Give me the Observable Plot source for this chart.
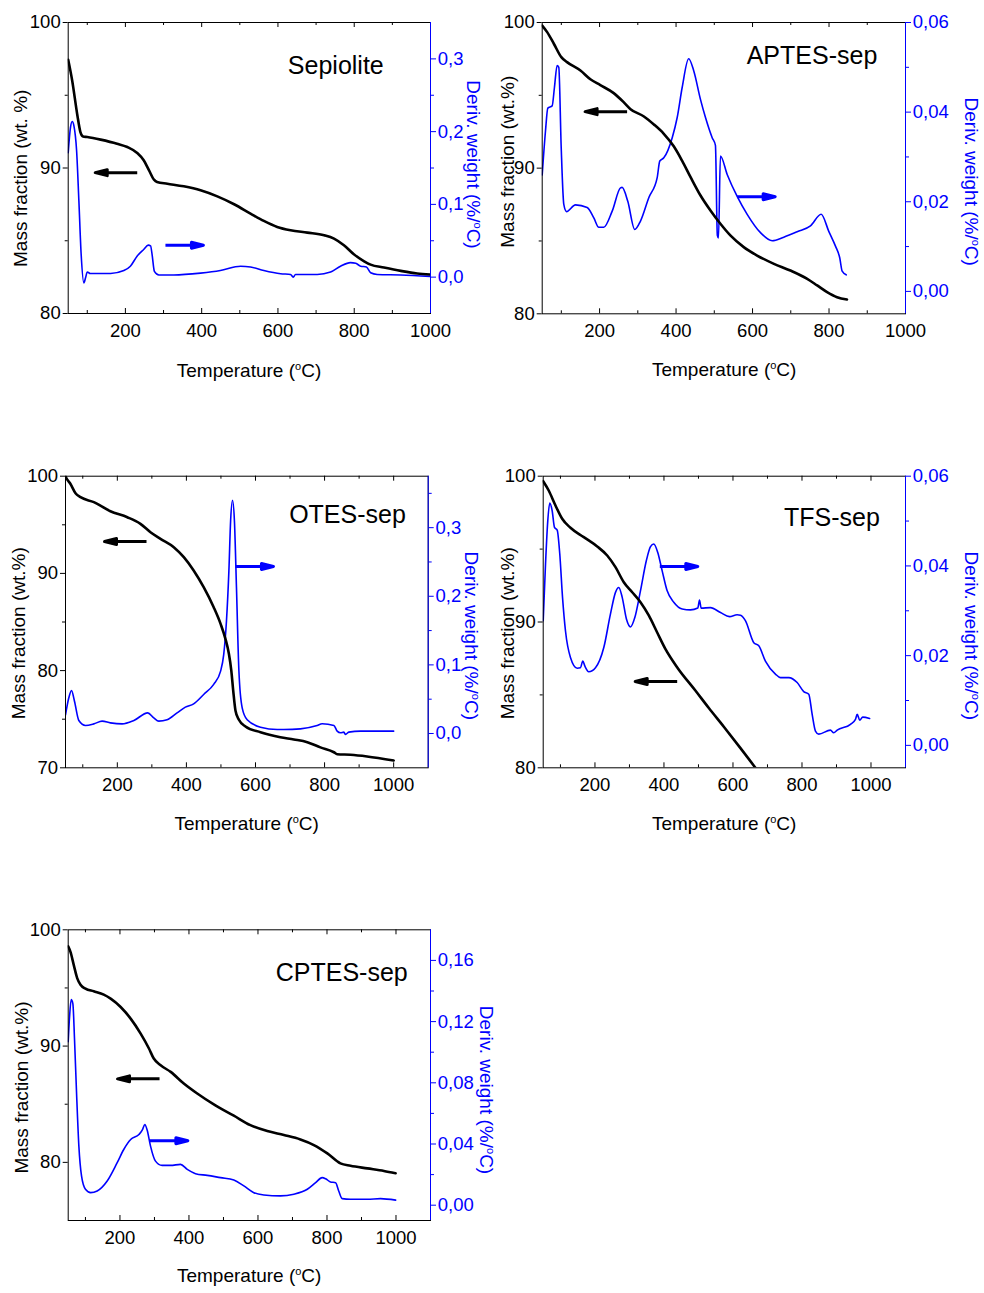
<!DOCTYPE html>
<html>
<head>
<meta charset="utf-8">
<script src="https://cdn.jsdelivr.net/npm/d3@7"></script>
<script src="https://cdn.jsdelivr.net/npm/@observablehq/plot@0.6"></script>
<style>
  body { margin: 0; background: #fff; }
  #page { position: relative; width: 984px; height: 1293px; background: #fff; }
  .panel { position: absolute; }
</style>
</head>
<body>
<div id="page"></div>
<script>
// ---- TGA data: [temperature (°C), mass fraction (wt.%)] ----
const sepioliteMass = [[50,97.44],[60.5,96.0],[73.6,93.7],[82,92.47],[89,92.17],[100,92.13],[135,91.95],[178,91.67],[205,91.44],[231,91.03],[248,90.53],[262,89.84],[275,89.2],[283,89.04],[310,88.92],[353,88.74],[397,88.47],[441,88.05],[485,87.51],[528,86.87],[563,86.36],[598,85.95],[633,85.72],[677,85.56],[721,85.38],[747,85.15],[773,84.69],[799,84.07],[826,83.59],[843,83.36],[878,83.16],[922,82.93],[965,82.75],[1000,82.68]];
const aptesMass = [[50,99.79],[63,99.34],[80.5,98.54],[100,97.62],[115,97.28],[150,96.7],[176,96.1],[202,95.7],[237,95.15],[263,94.53],[281,94.05],[316,93.55],[342,93.0],[368,92.36],[394,91.5],[416,90.5],[438,89.38],[464,88.12],[490,87.09],[516,86.18],[542,85.38],[577,84.58],[612,84.0],[656,83.43],[699,82.97],[743,82.4],[769,81.95],[795,81.49],[821,81.14],[847,80.98]];
const otesMass = [[50,100],[52,99.84],[64.5,99.2],[79,98.25],[93.4,97.84],[132,97.33],[180,96.4],[229,95.78],[267,95.1],[296,94.24],[325,93.56],[363.5,92.7],[392.5,91.67],[421,90.3],[450,88.58],[479,86.52],[499,84.81],[513,83.27],[523,81.73],[530,80.0],[535.5,77.95],[542,75.9],[552,74.94],[571,74.25],[614.5,73.66],[672,73.15],[711,72.92],[750,72.64],[788,72.1],[827,71.6],[836.5,71.4],[875,71.34],[923,71.17],[1000,70.76]];
const tfsMass = [[50,99.66],[66,99.02],[85.6,97.99],[105,97.08],[129,96.46],[167.6,95.82],[206.5,95.18],[235.5,94.56],[259.5,93.76],[283.6,92.73],[308,92.04],[332,91.36],[356,90.45],[380,89.3],[404,88.16],[438,86.9],[491,85.3],[530,84.1],[574,82.8],[620,81.4],[665,80.0],[690,79.2]];
const cptesMass = [[50,98.57],[56.8,98.08],[66.4,96.94],[76,95.85],[85.7,95.28],[100,94.94],[124,94.71],[153,94.42],[173,94.08],[202,93.36],[231,92.36],[260,91.07],[284,89.79],[298,88.93],[318,88.35],[347,87.78],[385,86.78],[424,85.92],[472,84.98],[530,84.01],[578,83.2],[627,82.69],[675,82.35],[723,81.97],[762,81.49],[801,80.77],[839,79.91],[868,79.71],[917,79.48],[965,79.26],[999,79.06]];

// ---- DTG data: [temperature (°C), derivative weight (%/°C)] ----
const sepioliteDtg = [[50,0.171],[56,0.206],[60.5,0.214],[65,0.208],[72,0.174],[78,0.105],[84,0.031],[91,-0.008],[95.5,-0.001],[100,0.007],[108,0.005],[161,0.005],[196,0.009],[213,0.015],[231,0.029],[248,0.038],[260,0.044],[266,0.043],[270,0.031],[276,0.008],[288,0.003],[327,0.003],[397,0.0055],[449,0.009],[502,0.015],[528,0.014],[563,0.009],[607,0.0046],[633,0.0037],[640,0.0],[646,0.0037],[703,0.0037],[738,0.007],[764,0.015],[790,0.02],[804,0.019],[817,0.015],[832,0.014],[843,0.006],[860,0.0037],[922,0.003],[1000,0.001]];
const aptesDtg = [[50,0.026],[58.6,0.0358],[64.7,0.0409],[76,0.0414],[82,0.0455],[89,0.0504],[93.4,0.05],[99.7,0.0321],[106.5,0.0194],[113.5,0.0178],[137,0.0193],[167.6,0.0187],[185,0.0164],[198,0.0143],[211,0.0143],[233,0.0179],[254.7,0.0231],[259,0.0232],[273.8,0.0201],[292,0.0138],[307,0.0157],[328.7,0.0209],[350.7,0.0254],[357.5,0.0291],[368,0.0298],[390,0.0343],[403,0.0388],[416,0.0455],[433,0.0519],[446,0.0493],[464,0.0428],[477,0.0388],[494.5,0.0343],[503,0.0326],[508,0.0125],[511,0.0119],[516,0.0302],[533.7,0.0261],[559.8,0.0212],[586,0.0172],[620.8,0.0131],[651.4,0.0113],[681.7,0.0121],[716.7,0.0133],[751.5,0.0146],[779.5,0.0172],[799.4,0.0134],[816.9,0.0101],[828,0.0075],[834.4,0.0045],[844.8,0.0037]];
const otesDtg = [[50,0.027],[59.6,0.052],[67.4,0.0627],[76,0.047],[88.6,0.019],[108,0.0117],[132,0.014],[156,0.018],[180,0.0155],[214,0.014],[248,0.019],[288,0.030],[305.6,0.0228],[320,0.018],[344,0.020],[373,0.030],[397,0.0384],[421,0.0432],[450,0.0569],[479,0.0715],[499,0.0909],[508,0.115],[516,0.164],[523,0.237],[528,0.31],[533.5,0.340],[539,0.31],[545,0.212],[552,0.091],[561.5,0.0374],[576,0.020],[614.5,0.0092],[663,0.0058],[682,0.0058],[730,0.0068],[778.6,0.0117],[793,0.0141],[827,0.0117],[836.5,0.0034],[846,0.001],[856,0.002],[860.6,-0.0015],[870,0.002],[904,0.0034],[1000,0.0034]];
const tfsDtg = [[50,0.0278],[56.7,0.0404],[63.3,0.0501],[69,0.054],[76,0.0523],[82.7,0.0486],[90.6,0.048],[98,0.0427],[106,0.033],[114.6,0.0255],[129,0.0196],[148.5,0.0172],[158,0.0173],[164.8,0.0188],[170.6,0.0177],[182,0.0164],[201.5,0.0173],[225.6,0.0218],[245,0.0293],[259.5,0.0341],[269,0.0352],[279,0.033],[291.4,0.0281],[303,0.0264],[315.5,0.0285],[332,0.0345],[349,0.0412],[361,0.0443],[370.5,0.0449],[382,0.043],[394.8,0.0389],[409,0.0345],[428.4,0.0319],[452.8,0.0304],[476.8,0.0302],[498,0.0306],[503,0.0324],[507.8,0.0306],[534.8,0.0307],[563.8,0.0296],[590,0.0287],[612,0.0291],[621.7,0.029],[636,0.0278],[660.3,0.0229],[674.8,0.0222],[694,0.0188],[723,0.0159],[737.6,0.0151],[761.7,0.0151],[786,0.014],[805,0.012],[819.6,0.0114],[829.5,0.0069],[839,0.0032],[848.6,0.0025],[882.5,0.0034],[892,0.0028],[902,0.0034],[940.5,0.0047],[955,0.0058],[960,0.0069],[967.4,0.0056],[976,0.0063],[996,0.006]];
const cptesDtg = [[50,0.1069],[53.9,0.123],[58.7,0.1344],[63.5,0.1318],[68.4,0.108],[74.2,0.0733],[80.9,0.0386],[88.6,0.0191],[100,0.0104],[115,0.0082],[134,0.0093],[163,0.0158],[192,0.0278],[211,0.0364],[231,0.0429],[255,0.0462],[264.5,0.049],[272,0.0527],[279,0.049],[288.6,0.0386],[303,0.0288],[322,0.026],[347,0.026],[375.5,0.0267],[395,0.0234],[419,0.0206],[453,0.0195],[491.5,0.018],[530,0.0165],[559,0.0126],[588,0.0082],[617,0.0067],[665,0.0061],[704,0.0072],[743,0.0104],[767,0.0147],[786,0.018],[796,0.0173],[810,0.0152],[825,0.0147],[834,0.0093],[844,0.0043],[868,0.0039],[917,0.0039],[955,0.0043],[999,0.0033]];

// ---- Arrow tails [temperature, wt.%]: black points to the left axis, blue to the right ----
const massArrows = { sepiolite: [231, 89.68], aptes: [272, 93.88], otes: [284.5, 93.28], tfs: [438.3, 85.92], cptes: [314.7, 87.18] };
const dtgArrows  = { sepiolite: [305, 84.69], aptes: [559.8, 88.04], otes: [542, 90.71], tfs: [387.9, 93.81], cptes: [286.7, 81.86] };

// ---- Tick values and labels ----
const sampleNames = ["Sepiolite", "APTES-sep", "OTES-sep", "TFS-sep", "CPTES-sep"];
const tempTicks = [200, 400, 600, 800, 1000];
const tempMinorTicks = [100, 300, 500, 700, 900];
const massTicks80 = [80, 90, 100];
const massMinor80 = [85, 95];
const massTicks70 = [70, 80, 90, 100];
const massMinor70 = [75, 85, 95];
const dtgTicksWide = [0, 0.1, 0.2, 0.3];
const dtgMinorWide = [0.05, 0.15, 0.25];
const dtgMinorWideOtes = [0.05, 0.15, 0.25, 0.35];
const dtgTicksNarrow = [0, 0.02, 0.04, 0.06];
const dtgMinorNarrow = [0.01, 0.03, 0.05];
const dtgTicksCptes = [0, 0.04, 0.08, 0.12, 0.16];
const dtgMinorCptes = [0.02, 0.06, 0.10, 0.14];
const massTitle = "Mass fraction (wt.%)";
const massTitleSep = "Mass fraction (wt. %)";

const BLUE = "#0000ff";
const FONT = "'Liberation Sans', Arial, Helvetica, sans-serif";
const TICK_FONT = 18.5;

// Layout of each panel: box on the page, margins, scale domains, text anchors (page coordinates)
const panels = [
  { name: sampleNames[0], mass: sepioliteMass, dtg: sepioliteDtg, mArrow: massArrows.sepiolite, dArrow: dtgArrows.sepiolite, massLabel: massTitleSep,
    left: 0, top: 0, width: 492, height: 400, margin: {left: 67.7, top: 22, right: 62, bottom: 87},
    xMax: 1000, yDomain: [80, 100], yTicks: massTicks80, yMinor: massMinor80,
    rDomain: [-0.05, 0.35], rTicks: dtgTicksWide, rMinor: dtgMinorWide, rDigits: 1,
    titlePos: [335.8, 74], leftPos: [27.3, 178.3], rightPos: [466.5, 164.5], bottomPos: [249, 376.5] },
  { name: sampleNames[1], mass: aptesMass, dtg: aptesDtg, mArrow: massArrows.aptes, dArrow: dtgArrows.aptes, massLabel: massTitle,
    left: 492, top: 0, width: 492, height: 400, margin: {left: 49.7, top: 22, right: 79, bottom: 86.7},
    xMax: 1000, yDomain: [80, 100], yTicks: massTicks80, yMinor: massMinor80,
    rDomain: [-0.005, 0.06], rTicks: dtgTicksNarrow, rMinor: dtgMinorNarrow, rDigits: 2,
    titlePos: [812, 64.3], leftPos: [513.6, 161.7], rightPos: [964.7, 181.7], bottomPos: [724.2, 376] },
  { name: sampleNames[2], mass: otesMass, dtg: otesDtg, mArrow: massArrows.otes, dArrow: dtgArrows.otes, massLabel: massTitle,
    left: 0, top: 452, width: 492, height: 400, margin: {left: 65, top: 23.7, right: 64.3, bottom: 84.7},
    xMax: 1100, yDomain: [70, 100], yTicks: massTicks70, yMinor: massMinor70,
    rDomain: [-0.05, 0.375], rTicks: dtgTicksWide, rMinor: dtgMinorWideOtes, rDigits: 1,
    titlePos: [347.5, 522.7], leftPos: [25.3, 633.3], rightPos: [464.7, 635.8], bottomPos: [246.7, 830] },
  { name: sampleNames[3], mass: tfsMass, dtg: tfsDtg, mArrow: massArrows.tfs, dArrow: dtgArrows.tfs, massLabel: massTitle,
    left: 492, top: 452, width: 492, height: 400, margin: {left: 50.7, top: 23.7, right: 79, bottom: 84.7},
    xMax: 1100, yDomain: [80, 100], yTicks: massTicks80, yMinor: massMinor80,
    rDomain: [-0.005, 0.06], rTicks: dtgTicksNarrow, rMinor: dtgMinorNarrow, rDigits: 2,
    titlePos: [832, 526], leftPos: [513.6, 633.3], rightPos: [964.7, 635.8], bottomPos: [724.2, 830] },
  { name: sampleNames[4], mass: cptesMass, dtg: cptesDtg, mArrow: massArrows.cptes, dArrow: dtgArrows.cptes, massLabel: massTitle,
    left: 0, top: 905, width: 500, height: 388, margin: {left: 67.7, top: 24.3, right: 70, bottom: 73},
    xMax: 1100, yDomain: [75, 100], yTicks: massTicks80, yMinor: massMinor80,
    rDomain: [-0.01, 0.18], rTicks: dtgTicksCptes, rMinor: dtgMinorCptes, rDigits: 2,
    titlePos: [341.7, 981], leftPos: [27.6, 1087.5], rightPos: [479.7, 1090], bottomPos: [249.2, 1282.3] }
];

// Arrow glyph for Plot.vector: straight shaft ending in a filled triangular head
const arrowShape = {
  draw(context, l) {
    const head = 12, wing = 3;
    context.moveTo(0, 0);
    context.lineTo(0, -(l - head));
    context.moveTo(-wing, -(l - head));
    context.lineTo(0, -l);
    context.lineTo(wing, -(l - head));
    context.closePath();
  }
};

// Text with a superscript "o" before the closing "C)"
function withDegree(text, before, after) {
  text.append("tspan").text(before);
  text.append("tspan").attr("font-size", "11px").attr("dy", -7).text("o");
  text.append("tspan").attr("dy", 7).text(after);
}

function drawPanel(p) {
  const [l0, l1] = p.yDomain, [r0, r1] = p.rDomain;
  const toLeft = v => l0 + (v - r0) * (l1 - l0) / (r1 - r0);
  const fromLeft = y => r0 + (y - l0) * (r1 - r0) / (l1 - l0);
  const m = p.margin;
  const frameH = p.height - m.top - m.bottom;
  const fmt = d3.format(`.${p.rDigits}f`);
  const rightLabel = y => fmt(Math.round(fromLeft(y) * 1e6) / 1e6 + 0).replace(".", ",");

  const plot = Plot.plot({
    width: p.width,
    height: p.height,
    marginLeft: m.left, marginRight: m.right, marginTop: m.top, marginBottom: m.bottom,
    style: { fontFamily: FONT, fontSize: TICK_FONT + "px", background: "white", overflow: "visible", color: "black" },
    x: { domain: [50, p.xMax], label: null },
    y: { domain: p.yDomain, label: null },
    marks: [
      // temperature axis: labels below, ticks pointing into the frame (bottom and top)
      Plot.axisX(tempTicks, { anchor: "bottom", tickSize: 0, tickPadding: 10.5, label: null, fontSize: TICK_FONT, tickFormat: d => String(d) }),
      Plot.tickX(tempTicks, { x: d => d, insetTop: frameH - 5, stroke: "black" }),
      Plot.tickX(tempMinorTicks, { x: d => d, insetTop: frameH - 3, stroke: "black" }),
      Plot.tickX(tempTicks, { x: d => d, insetBottom: frameH - 5, stroke: "black" }),
      Plot.tickX(tempMinorTicks, { x: d => d, insetBottom: frameH - 3, stroke: "black" }),
      // mass axis (left)
      Plot.axisY(p.yTicks, { anchor: "left", tickSize: 5, tickPadding: 2.5, label: null, fontSize: TICK_FONT, tickFormat: d => String(d) }),
      Plot.axisY(p.yMinor, { anchor: "left", tickSize: 3, tickFormat: () => "", label: null }),
      // derivative weight axis (right), mapped onto the mass scale
      Plot.axisY(p.rTicks.map(toLeft), { anchor: "right", tickSize: 5, tickPadding: 2.3, color: BLUE, label: null, fontSize: TICK_FONT, tickFormat: rightLabel }),
      Plot.axisY(p.rMinor.map(toLeft), { anchor: "right", tickSize: 3, color: BLUE, label: null, tickFormat: () => "" }),
      // curves
      Plot.line(p.dtg, { x: d => d[0], y: d => toLeft(d[1]), stroke: BLUE, strokeWidth: 1.6, curve: "monotone-x", clip: true }),
      Plot.line(p.mass, { x: d => d[0], y: d => d[1], stroke: "black", strokeWidth: 2.6, curve: "monotone-x", clip: true }),
      // axis-indicator arrows
      Plot.vector([p.mArrow], { x: d => d[0], y: d => d[1], length: 42, rotate: -90, anchor: "start", shape: arrowShape,
        stroke: "black", fill: "black", strokeWidth: 3, strokeLinecap: "butt", strokeLinejoin: "round" }),
      Plot.vector([p.dArrow], { x: d => d[0], y: d => d[1], length: 38, rotate: 90, anchor: "start", shape: arrowShape,
        stroke: BLUE, fill: BLUE, strokeWidth: 3, strokeLinecap: "butt", strokeLinejoin: "round" }),
      // frame, with the right edge in the derivative colour
      Plot.frame({ stroke: "black" }),
      Plot.ruleX([p.xMax], { stroke: BLUE })
    ]
  });

  const svg = d3.select(plot);
  const ox = p.left, oy = p.top;

  // sample name
  svg.append("text")
    .attr("x", p.titlePos[0] - ox).attr("y", p.titlePos[1] - oy)
    .attr("text-anchor", "middle").attr("font-size", "25px").attr("fill", "black")
    .text(p.name);

  // temperature title
  const tx = svg.append("text")
    .attr("x", p.bottomPos[0] - ox).attr("y", p.bottomPos[1] - oy)
    .attr("text-anchor", "middle").attr("font-size", "19px").attr("fill", "black");
  withDegree(tx, "Temperature (", "C)");

  // mass title (left, reading upwards)
  svg.append("text")
    .attr("transform", `translate(${p.leftPos[0] - ox},${p.leftPos[1] - oy}) rotate(-90)`)
    .attr("text-anchor", "middle").attr("font-size", "19px").attr("fill", "black")
    .text(p.massLabel);

  // derivative title (right, reading downwards)
  const rt = svg.append("text")
    .attr("transform", `translate(${p.rightPos[0] - ox},${p.rightPos[1] - oy}) rotate(90)`)
    .attr("text-anchor", "middle").attr("font-size", "19px").attr("fill", BLUE);
  withDegree(rt, "Deriv. weight (%/", "C)");

  const div = document.createElement("div");
  div.className = "panel";
  div.style.left = p.left + "px";
  div.style.top = p.top + "px";
  div.appendChild(plot);
  document.getElementById("page").appendChild(div);
}

panels.forEach(drawPanel);
</script>
</body>
</html>
